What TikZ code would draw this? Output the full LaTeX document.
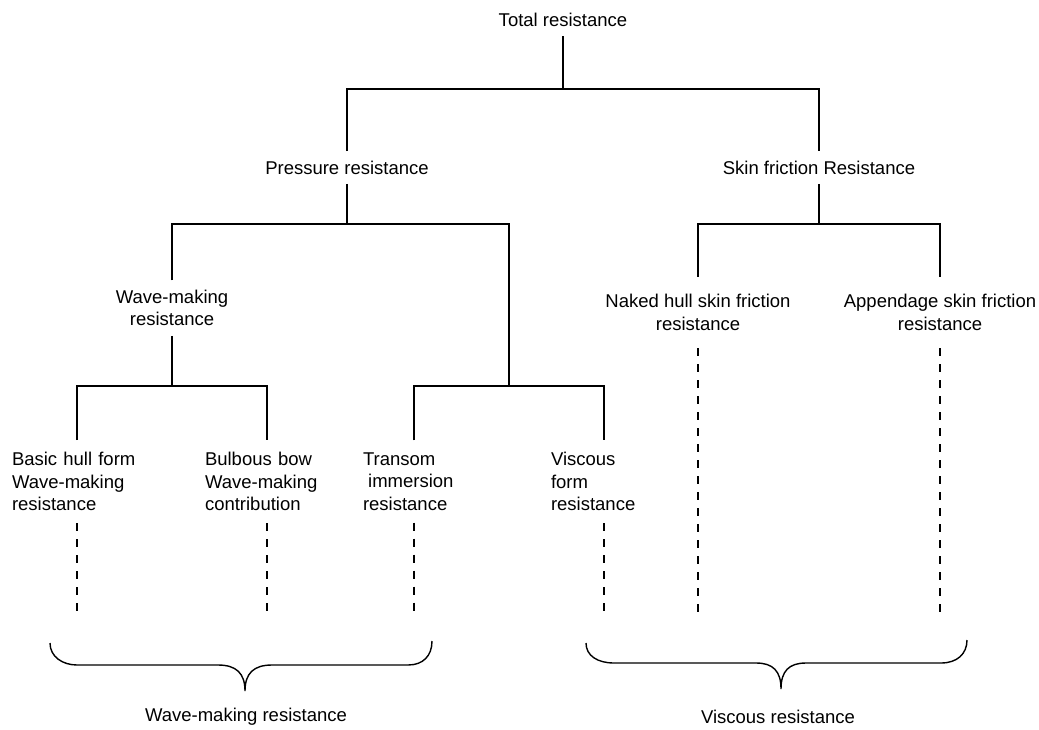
\documentclass[tikz,border=0pt]{standalone}
\usepackage{fontspec}
\setmainfont{Liberation Sans}

\begin{document}
\begin{tikzpicture}[x=0.5pt,y=-0.5pt,line width=0.7pt,
  every node/.style={font=\fontsize{9.25}{11.25}\selectfont,
    inner xsep=0pt,inner ysep=4.5pt,align=center},
  leaf/.style={inner ysep=5.75pt,align=left},
  twoline/.style={inner ysep=8.5pt},
  guide/.style={dash pattern=on 4pt off 4pt}]
\useasboundingbox (0,0) rectangle (1039,729);

\node (total) at (563,20) {Total resistance};
\node (press) at (347,167.5) {Pressure resistance};
\node (skin) at (819,167.5) {Skin friction Resistance};
\node (wave) at (172,308) {Wave-making\\resistance};
\node[leaf,text width=65pt] (basic) at (77,481.5) {Basic hull form\\Wave-making\\resistance};
\node[leaf,text width=62pt] (bulb) at (267,481.5) {Bulbous bow\\Wave-making\\contribution};
\node[leaf,text width=51pt] (transom) at (414,481.5) {Transom\\\hspace*{.28em}immersion\\resistance};
\node[leaf,text width=53pt] (visc) at (604,481.5) {Viscous\\form\\resistance};
\node[twoline] (naked) at (698,312.5) {Naked hull skin friction\\resistance};
\node[twoline] (append) at (940,312.5) {Appendage skin friction\\resistance};
\node (wavesum) at (246,717) {Wave-making resistance};
\node (viscsum) at (778,717) {Viscous resistance};

\coordinate (j0) at (563,89);
\coordinate (j1) at (347,224);
\coordinate (j2) at (172,386);
\coordinate (j3) at (509,386);
\coordinate (j4) at (819,224);
\coordinate (floor) at (0,613);

\draw (total.south) -- (j0);
\draw (press.north) |- (j0) -| (skin.north);
\draw (press.south) -- (j1);
\draw (wave.north) |- (j1) -| (j3);
\draw (wave.south) -- (j2);
\draw (basic.north) |- (j2) -| (bulb.north);
\draw (transom.north) |- (j3) -| (visc.north);
\draw (skin.south) -- (j4);
\draw (naked.north) |- (j4) -| (append.north);

\foreach \n in {basic,bulb,transom,visc,naked,append}
  \draw[guide] (\n.south) -- (\n.south |- floor);

% braces
\draw (50,643) .. controls (50,657) and (63,665) .. (77,665) -- (218,665)
  .. controls (236,665) and (245,673) .. (245,691)
  .. controls (245,673) and (254,665) .. (272,665) -- (408,665)
  .. controls (423,665) and (432,656) .. (432,641);
\draw (586,643) .. controls (586,656) and (598,663) .. (614,663) -- (756,663)
  .. controls (773,663) and (781,671) .. (781,689)
  .. controls (781,671) and (789,663) .. (806,663) -- (941,663)
  .. controls (957,663) and (967,654) .. (967,640);
\end{tikzpicture}
\end{document}
